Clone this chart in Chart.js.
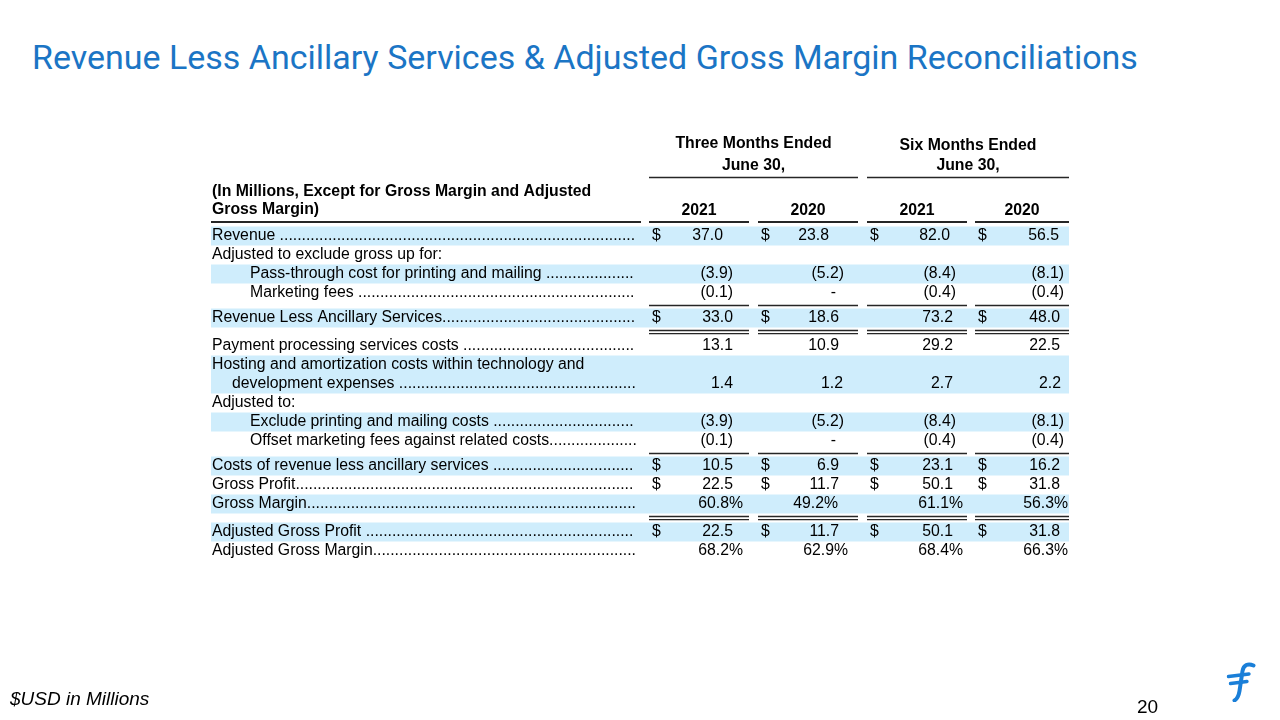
<!DOCTYPE html>
<html>
<head>
<meta charset="utf-8">
<script src="https://cdn.jsdelivr.net/npm/chart.js@4.4.1/dist/chart.umd.min.js"></script>
<style>
  html, body { margin: 0; padding: 0; background: #ffffff; }
  body { width: 1280px; height: 720px; overflow: hidden; position: relative; font-family: "Liberation Sans", Arial, sans-serif; }
  #title { position: absolute; left: 32px; top: 40px; margin: 0; font-family: Roboto, "Liberation Sans", sans-serif; font-weight: 400; font-size: 31px; line-height: 1; color: #1b75c5; white-space: nowrap; }
  #chart { position: absolute; left: 0; top: 0; width: 1280px; height: 720px; }
  #foot { position: absolute; left: 10px; top: 689px; font-family: "Liberation Sans", Arial, sans-serif; font-style: italic; font-size: 19px; line-height: 20px; color: #000; white-space: nowrap; }
  #page { position: absolute; left: 1137px; top: 697px; font-family: "Liberation Sans", Arial, sans-serif; font-size: 19px; line-height: 1; color: #000; }
  #logo { position: absolute; left: 1226px; top: 662px; width: 30px; height: 40px; }
</style>
</head>
<body>
<h1 id="title">Revenue Less Ancillary Services &amp; Adjusted Gross Margin Reconciliations</h1>
<canvas id="chart" width="1280" height="720"></canvas>
<div id="foot">$USD in Millions</div>
<div id="page">20</div>
<svg id="logo" viewBox="0 0 30 40" xmlns="http://www.w3.org/2000/svg">
  <path d="M27.5 3.5 C22 1 17.5 3 16.5 9 L13.5 29 C12.5 35 11 37 8.5 38.5" fill="none" stroke="#1a7fd8" stroke-width="4" stroke-linecap="round"/>
  <path d="M2.5 14.5 L23 12" fill="none" stroke="#1a7fd8" stroke-width="3.4" stroke-linecap="round"/>
  <path d="M4.5 21.5 L21 19.5" fill="none" stroke="#1a7fd8" stroke-width="3.4" stroke-linecap="round"/>
</svg>
<script>
// ---------------- DATA ----------------
const periodHeaders = ["Three Months Ended", "Six Months Ended"];
const periodSubHeaders = ["June 30,", "June 30,"];
const yearLabels = ["2021", "2020", "2021", "2020"];
const stubHeader = ["(In Millions, Except for Gross Margin and Adjusted", "Gross Margin)"];

const rowLabels = [
  "Revenue",
  "Adjusted to exclude gross up for:",
  "Pass-through cost for printing and mailing",
  "Marketing fees",
  "Revenue Less Ancillary Services",
  "Payment processing services costs",
  "Hosting and amortization costs within technology and\ndevelopment expenses",
  "Adjusted to:",
  "Exclude printing and mailing costs",
  "Offset marketing fees against related costs",
  "Costs of revenue less ancillary services",
  "Gross Profit",
  "Gross Margin",
  "Adjusted Gross Profit",
  "Adjusted Gross Margin"
];

const threeMonths2021 = [37.0, null, -3.9, -0.1, 33.0, 13.1, 1.4, null, -3.9, -0.1, 10.5, 22.5, 60.8, 22.5, 68.2];
const threeMonths2020 = [23.8, null, -5.2, 0, 18.6, 10.9, 1.2, null, -5.2, 0, 6.9, 11.7, 49.2, 11.7, 62.9];
const sixMonths2021   = [82.0, null, -8.4, -0.4, 73.2, 29.2, 2.7, null, -8.4, -0.4, 23.1, 50.1, 61.1, 50.1, 68.4];
const sixMonths2020   = [56.5, null, -8.1, -0.4, 48.0, 22.5, 2.2, null, -8.1, -0.4, 16.2, 31.8, 56.3, 31.8, 66.3];

// which columns carry a "$" sign in each row (as printed)
const dollarSigns = [
  [1,1,1,1],[0,0,0,0],[0,0,0,0],[0,0,0,0],[1,1,0,1],[0,0,0,0],[0,0,0,0],[0,0,0,0],
  [0,0,0,0],[0,0,0,0],[1,1,1,1],[1,1,1,1],[0,0,0,0],[1,1,1,1],[0,0,0,0]
];
const percentRows = [0,0,0,0,0,0,0,0,0,0,0,0,1,0,1];

// ---------------- LAYOUT / STYLE ----------------
const BAND = "#cfedfc";
const INK = "#000000";
const RULE = "#262626";
const FONT = '"Liberation Sans", Arial, sans-serif';
const BODY_PX = 15.8;
const TABLE_W = 858;           // x-scale domain (table units)
const LINES = 23;              // y-scale domain (text lines)
const rowLineCount = [1,1,1,1,1,1,2,1,1,1,1,1,1,1,1];
const rowIndent    = [0,0,38,38,0,0,0,0,38,38,0,0,0,0,0];
const wrapIndent   = 20;
const leaderSpace  = [1,0,1,1,0,1,1,0,1,0,1,0,0,1,0];
const shaded       = [1,0,1,0,1,0,1,0,1,0,1,0,1,1,0];
const ruleAfter    = {3: 1, 4: 2, 9: 1, 12: 2};   // 1 = single, 2 = double
const GAP = {1: 6 / 19, 2: 9 / 19};
const FIRST_ROW_TOP = 5;
const LEADER_END = 426;
const colBox = [[438, 538], [547, 647], [656, 756], [764, 858]];
const labelBox = [0, 430];
const alignEdges = {
  numA:  [512, 618, 739, 848],
  num:   [522, 628, 742, 849],
  paren: [522, 633, 745, 853],
  host:  [522, 632, 742, 850],
  pctA:  [532, 627, 752, 857],
  pctB:  [532, 637, 752, 857]
};
const rowAlign = ['numA', null, 'paren', 'paren', 'num', 'num', 'host', null, 'paren', 'paren', 'num', 'num', 'pctA', 'num', 'pctB'];
const headerY = { three: [0.63, 1.8], six: [0.76, 1.8], periodRule: 2.42, stub: [3.18, 4.1], years: 4.15, headRule: 4.76 };

// row geometry in line units
const rowTop = [];
(function () {
  let t = FIRST_ROW_TOP;
  rowLabels.forEach((_, i) => {
    rowTop.push(t);
    t += rowLineCount[i];
    if (ruleAfter[i]) t += GAP[ruleAfter[i]];
  });
})();
const rowValueY = rowTop.map((t, i) => t + rowLineCount[i] - 0.5);

function fmt(v, pct) {
  if (v === 0) return "-";
  if (pct) return v.toFixed(1) + "%";
  if (v < 0) return "(" + Math.abs(v).toFixed(1) + ")";
  return v.toFixed(1);
}

const series = [threeMonths2021, threeMonths2020, sixMonths2021, sixMonths2020];
const datasets = series.map((vals, c) => ({
  label: "col" + c,
  data: vals.map((v, i) => v === null ? null : { x: alignEdges[rowAlign[i]][c], y: rowValueY[i], v: v, row: i }).filter(d => d),
  pointRadius: 0,
  pointHoverRadius: 0,
  showLine: false
}));

const tablePlugin = {
  id: 'tableDraw',
  beforeDatasetsDraw(chart) {
    const { ctx, scales: { x, y } } = chart;
    const X = v => x.getPixelForValue(v);
    const Y = v => y.getPixelForValue(v);
    ctx.save();
    // shaded bands
    ctx.fillStyle = BAND;
    rowLabels.forEach((_, i) => {
      if (!shaded[i]) return;
      const t = Y(rowTop[i]), b = Y(rowTop[i] + rowLineCount[i]);
      ctx.fillRect(X(0), t, X(TABLE_W) - X(0), b - t);
    });
    const hline = (x0, x1, py, w) => {
      ctx.strokeStyle = RULE;
      ctx.lineWidth = w;
      ctx.beginPath();
      ctx.moveTo(X(x0), py);
      ctx.lineTo(X(x1), py);
      ctx.stroke();
    };
    // header rules
    hline(colBox[0][0], colBox[1][1], Y(headerY.periodRule), 1.5);
    hline(colBox[2][0], colBox[3][1], Y(headerY.periodRule), 1.5);
    hline(labelBox[0], labelBox[1], Y(headerY.headRule), 2);
    colBox.forEach(b => hline(b[0], b[1], Y(headerY.headRule), 2));
    // total rules
    Object.keys(ruleAfter).forEach(k => {
      const i = +k;
      const kind = ruleAfter[i];
      const mid = Y(rowTop[i] + rowLineCount[i] + GAP[kind] / 2);
      colBox.forEach(b => {
        if (kind === 1) hline(b[0], b[1], mid, 1.5);
        else { hline(b[0], b[1], mid - 1.6, 1.5); hline(b[0], b[1], mid + 1.6, 1.3); }
      });
    });
    ctx.restore();
  },
  afterDatasetsDraw(chart) {
    const { ctx, scales: { x, y } } = chart;
    const X = v => x.getPixelForValue(v);
    const Y = v => y.getPixelForValue(v);
    ctx.save();
    ctx.fillStyle = INK;
    ctx.textBaseline = 'middle';
    // column headers
    ctx.font = 'bold ' + BODY_PX + 'px ' + FONT;
    ctx.textAlign = 'center';
    const threeC = X((colBox[0][0] + colBox[1][1]) / 2);
    const sixC = X((colBox[2][0] + colBox[3][1]) / 2);
    ctx.fillText(periodHeaders[0], threeC, Y(headerY.three[0]));
    ctx.fillText(periodSubHeaders[0], threeC, Y(headerY.three[1]));
    ctx.fillText(periodHeaders[1], sixC, Y(headerY.six[0]));
    ctx.fillText(periodSubHeaders[1], sixC, Y(headerY.six[1]));
    yearLabels.forEach((t, c) => ctx.fillText(t, X((colBox[c][0] + colBox[c][1]) / 2), Y(headerY.years)));
    ctx.textAlign = 'left';
    stubHeader.forEach((t, k) => ctx.fillText(t, X(labelBox[0]) + 1, Y(headerY.stub[k])));
    // row labels with dot leaders
    ctx.font = BODY_PX + 'px ' + FONT;
    const dotW = ctx.measureText('.').width;
    const spW = ctx.measureText(' ').width;
    const leaderEnd = X(LEADER_END);
    rowLabels.forEach((lab, i) => {
      const lines = lab.split('\n');
      lines.forEach((ln, k) => {
        const px = X(labelBox[0]) + 1 + rowIndent[i] + (k > 0 ? wrapIndent : 0);
        const py = Y(rowTop[i] + k + 0.5);
        ctx.fillText(ln, px, py);
        const isLast = k === lines.length - 1;
        const hasValues = series.some(s => s[i] !== null);
        if (isLast && hasValues) {
          const start = px + ctx.measureText(ln).width + (leaderSpace[i] ? spW : 0);
          const n = Math.floor((leaderEnd - start) / dotW);
          if (n > 0) ctx.fillText('.'.repeat(n), start, py);
        }
      });
    });
    // value cells from dataset elements
    chart.data.datasets.forEach((ds, c) => {
      const meta = chart.getDatasetMeta(c);
      meta.data.forEach((el, j) => {
        const d = ds.data[j];
        const txt = fmt(d.v, percentRows[d.row]);
        ctx.textAlign = 'right';
        const ex = d.v === 0 ? el.x - 8 : el.x;
        ctx.fillText(txt, ex, el.y);
        if (dollarSigns[d.row][c]) {
          ctx.textAlign = 'left';
          ctx.fillText('$', X(colBox[c][0]) + 3, el.y);
        }
      });
    });
    ctx.restore();
  }
};

new Chart(document.getElementById('chart'), {
  type: 'scatter',
  data: { datasets: datasets },
  options: {
    responsive: false,
    animation: false,
    events: [],
    layout: { padding: { left: 211, right: 211, top: 131.5, bottom: 720 - 131.5 - LINES * 19 } },
    plugins: { legend: { display: false }, tooltip: { enabled: false }, title: { display: false } },
    scales: {
      x: { type: 'linear', min: 0, max: TABLE_W, display: false },
      y: { type: 'linear', min: 0, max: LINES, reverse: true, display: false }
    }
  },
  plugins: [tablePlugin]
});

// fit title width to the slide's title span
(function () {
  const el = document.getElementById('title');
  const c = document.createElement('canvas').getContext('2d');
  c.font = '100px Roboto';
  const w = c.measureText(el.textContent).width;
  const size = 100 * 1106 / w;
  el.style.fontSize = size.toFixed(2) + 'px';
})();
</script>
</body>
</html>
